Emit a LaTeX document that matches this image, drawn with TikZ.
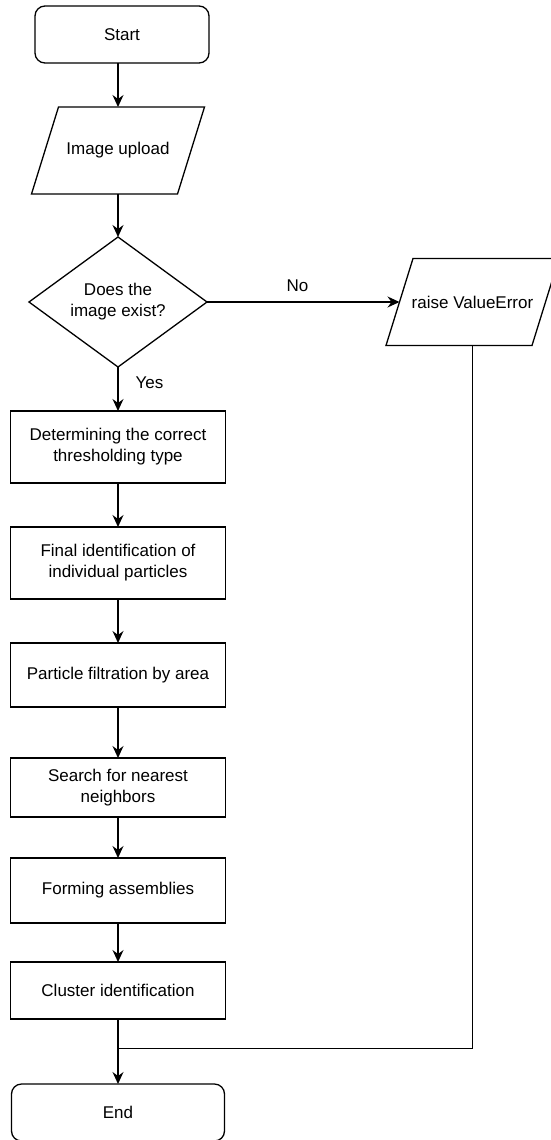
\documentclass[tikz,border=0pt]{standalone}
\usepackage{fontspec}
\setmainfont{Liberation Sans}
\usepackage{tikz}
\usetikzlibrary{arrows.meta,shapes.geometric,positioning}

\begin{document}
\begin{tikzpicture}[x=1pt, y=-1pt, ->, >={Stealth[length=12pt,width=11pt,inset=4pt]}, line width=1.3pt, node distance=44pt,
		font=\fontsize{17pt}{21pt}\selectfont, every node/.append style={outer sep=0pt},
		term/.style={draw, -, rectangle, rounded corners=10pt, minimum height=57pt, inner sep=0pt},
		io/.style={rectangle, minimum width=146pt, minimum height=87pt, inner sep=0pt},
		proc/.style={draw, -, rectangle, align=center, minimum width=215pt, inner sep=0pt},
		decide/.style={draw, -, diamond, aspect=1.37, minimum width=178pt, minimum height=130pt, inner sep=0pt, align=center}]
				\useasboundingbox (0,0) rectangle (550,1140);

				\node[term, minimum width=174pt] (start) at (122,34.5) {Start};
				\node[io]                (upload) [below=44pt of start, xshift=-4pt] {Image upload};
				\node[decide]            (exist)  [below=43pt of upload] {Does the\\image exist?};
				\node[io]                (err)    [right=192.5pt of exist] {raise ValueError};
				\node[proc, minimum height=72pt] (thresh) [below=of exist] {Determining the correct\\thresholding type};
				\node[proc, minimum height=72pt] (ident)  [below=of thresh] {Final identification of\\individual particles};
				\node[proc, minimum height=64pt] (filt)   [below=of ident] {Particle filtration by area};
				\node[proc, minimum height=59pt] (search) [below=51pt of filt] {Search for nearest\\neighbors};
				\node[proc, minimum height=65pt] (assem)  [below=41pt of search] {Forming assemblies};
				\node[proc, minimum height=57pt] (clust)  [below=39pt of assem] {Cluster identification};
				\node[term, minimum width=213pt] (end)    [below=65pt of clust] {End};

				% slanted outline of the data nodes
				\foreach \n in {upload,err}
					\draw[-] ([xshift=13.5pt]\n.north west) -- ([xshift=13.5pt]\n.north east)
						-- ([xshift=-13.5pt]\n.south east) -- ([xshift=-13.5pt]\n.south west) -- cycle;

				\path (clust.south) -- coordinate[pos=0.45] (join) (end.north);

				\path	(start.south -| upload.north) edge (upload.north)
						(upload) edge (exist)
						(exist) edge node[above=7pt, pos=0.47] {No} (err)
						(exist) edge node[right, inner sep=5.7pt, xshift=12pt, pos=0.35] {Yes} (thresh)
						(thresh) edge (ident)
						(ident) edge (filt)
						(filt) edge (search)
						(search) edge (assem)
						(assem) edge (clust)
						(clust) edge (end);
				\draw[-] (err.south) |- (join);

			\end{tikzpicture}
\end{document}
